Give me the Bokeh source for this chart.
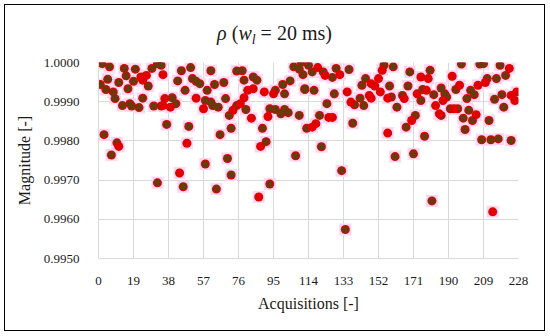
from bokeh.plotting import figure
from bokeh.models import Range1d, FixedTicker, PrintfTickFormatter, Div
from bokeh.layouts import column
from bokeh.embed import file_html
from bokeh.resources import INLINE

# ---- data ----
x_ticks = [0, 19, 38, 57, 76, 95, 114, 133, 152, 171, 190, 209, 228]
y_ticks = [0.9950, 0.9960, 0.9970, 0.9980, 0.9990, 1.0000]

# points with dark centre
dark_x = [2, 6, 14, 20, 29, 32, 34, 5, 15, 11, 19, 27, 1, 4, 8, 9, 16, 13, 17, 18, 22, 24, 30, 34,
          3, 10, 7, 32,
          45, 50, 61, 43, 51, 53, 55, 63, 68, 47, 59, 40, 42, 58, 61, 62, 65, 69, 71, 37, 49, 66, 72,
          70, 58, 46, 64, 72,
          75, 78, 79, 84, 86, 106, 109, 110, 111, 104, 100, 96, 101, 112, 75, 80, 93, 96, 99, 101,
          103, 109, 89, 91, 107, 93,
          114, 122, 127, 116, 129, 136, 112, 117, 128, 145, 143, 124, 139, 142, 144, 120, 113, 138,
          121, 132, 134,
          155, 160, 169, 180, 158, 168, 159, 165, 162, 176, 175, 182, 186, 186, 172, 167, 177, 161,
          171, 181,
          197, 207, 209, 218, 221, 216, 211, 194, 202, 204, 188, 189, 200, 219, 215, 220, 191, 195,
          201, 203, 198, 199, 212, 208, 213, 217, 224]
dark_y = [0.99997, 0.99989, 0.99985, 0.99983, 0.99985, 0.99997, 0.99993, 0.99957, 0.99966, 0.99949,
          0.99952, 0.99940, 0.99944, 0.99931, 0.99925, 0.99908, 0.99933, 0.99890, 0.99895, 0.99889,
          0.99885, 0.99909, 0.99889, 0.99889,
          0.99816, 0.99795, 0.99764, 0.99693,
          0.99979, 0.99987, 0.99979, 0.99953, 0.99959, 0.99952, 0.99946, 0.99944, 0.99949, 0.99929,
          0.99929, 0.99910, 0.99895, 0.99903, 0.99899, 0.99890, 0.99886, 0.99908, 0.99865, 0.99842,
          0.99837, 0.99816, 0.99832,
          0.99755, 0.99741, 0.99683, 0.99677, 0.99713,
          0.99978, 0.99979, 0.99955, 0.99963, 0.99955, 0.99989, 0.99983, 1.00000, 0.99969, 0.99953,
          0.99944, 0.99929, 0.99920, 0.99933, 0.99890, 0.99880, 0.99882, 0.99880, 0.99869, 0.99880,
          0.99872, 0.99865, 0.99832, 0.99798, 0.99762, 0.99690,
          0.99993, 0.99976, 0.99962, 0.99976, 0.99985, 0.99982, 0.99931, 0.99929, 0.99920, 0.99959,
          0.99942, 0.99895, 0.99892, 0.99909, 0.99890, 0.99865, 0.99832, 0.99845,
          0.99785, 0.99724, 0.99574,
          0.99993, 0.99989, 0.99976, 0.99980, 0.99940, 0.99940, 0.99912, 0.99916, 0.99886, 0.99931,
          0.99903, 0.99918, 0.99935, 0.99865, 0.99865, 0.99835, 0.99812, 0.99760,
          0.99767, 0.99647,
          0.99996, 0.99996, 0.99997, 0.99993, 0.99967, 0.99959, 0.99959, 0.99931, 0.99929, 0.99918,
          0.99920, 0.99912, 0.99908, 0.99918, 0.99906, 0.99886, 0.99882, 0.99882,
          0.99878, 0.99852, 0.99858, 0.99829, 0.99852, 0.99803, 0.99803, 0.99805, 0.99801]

# plain red points
red_x = [23, 24, 26, 11, 35, 36, 39, 35, 53, 57, 48, 44, 81, 84, 79, 90, 95, 77, 73, 83, 92, 88, 87,
         119, 123, 131, 135, 148, 150, 137, 147, 148, 125, 127, 118, 116,
         154, 175, 179, 152, 153, 157, 166, 173, 178, 183, 185, 170, 157,
         223, 192, 210, 206, 196, 187, 224, 227, 226, 193, 205, 214]
red_y = [0.99963, 0.99955, 0.99967, 0.99786, 0.99969, 0.99908, 0.99886, 0.99890, 0.99909, 0.99882,
         0.99794, 0.99718, 0.99929, 0.99933, 0.99910, 0.99925, 0.99920, 0.99895, 0.99878, 0.99858,
         0.99862, 0.99786, 0.99657,
         0.99987, 0.99967, 0.99969, 0.99925, 0.99946, 0.99940, 0.99899, 0.99916, 0.99909, 0.99860,
         0.99860, 0.99844, 0.99835,
         0.99980, 0.99963, 0.99959, 0.99959, 0.99925, 0.99909, 0.99908, 0.99920, 0.99929, 0.99890,
         0.99869, 0.99852, 0.99820,
         0.99985, 0.99965, 0.99949, 0.99942, 0.99942, 0.99903, 0.99916, 0.99925, 0.99903, 0.99882,
         0.99867, 0.99619]

SERIF = "Liberation Serif"
W = 539

title_html = ('<div style="font-family:\'Liberation Serif\',serif;font-size:20px;color:#1a1a1a;'
              'text-align:center;width:539px;padding-top:18px;line-height:20px;white-space:nowrap;">'
              '<i>ρ</i>&nbsp;(<i>w</i><sub style="font-size:14px;line-height:0;vertical-align:-4px;">'
              '<i>l</i></sub>&nbsp;= 20 ms)</div>')
title = Div(text=title_html, width=W, height=48, margin=(0, 0, 0, 0))

p = figure(width=W, height=277, output_backend="svg", toolbar_location=None,
           x_range=Range1d(0, 228), y_range=Range1d(0.995, 1.0),
           min_border_left=93, min_border_right=26, min_border_top=9, min_border_bottom=72,
           margin=(0, 0, 0, 0))
p.outline_line_color = None
p.background_fill_color = "white"

for ax in (p.xaxis, p.yaxis):
    ax.axis_line_color = "#d9d9d9"
    ax.major_tick_line_color = None
    ax.minor_tick_line_color = None
    ax.major_label_text_font = SERIF
    ax.major_label_text_color = "#1a1a1a"
    ax.major_label_text_font_size = "13px"
    ax.axis_label_text_font = SERIF
    ax.axis_label_text_font_style = "normal"
    ax.axis_label_text_color = "#1a1a1a"
    ax.axis_label_text_font_size = "16px"

p.xaxis.ticker = FixedTicker(ticks=x_ticks)
p.yaxis.ticker = FixedTicker(ticks=y_ticks)
p.yaxis.formatter = PrintfTickFormatter(format="%.4f")
p.xaxis.major_label_standoff = 12
p.yaxis.major_label_standoff = 13
p.xaxis.axis_label = "Acquisitions [-]"
p.yaxis.axis_label = "Magnitude [-]"
p.xaxis.axis_label_standoff = 7
p.yaxis.axis_label_standoff = 8

p.grid.grid_line_color = "#d9d9d9"
p.grid.grid_line_width = 1

all_x = dark_x + red_x
all_y = dark_y + red_y
p.scatter(all_x, all_y, marker="square", size=12, fill_color="#ffd6f4", line_color=None)
p.scatter(dark_x, dark_y, marker="circle", size=9, fill_color="#e00000", line_color=None)
p.scatter(dark_x, dark_y, marker="circle", size=7, fill_color="#6a3a0c", line_color=None)
p.scatter(red_x, red_y, marker="circle", size=9, fill_color="#e00000", line_color=None)

layout = column(title, p, spacing=0,
                styles={"border": "1.5px solid #000", "background": "white",
                        "position": "fixed", "left": "4px", "top": "4px"})

open("out.html", "w").write(file_html(layout, INLINE))
